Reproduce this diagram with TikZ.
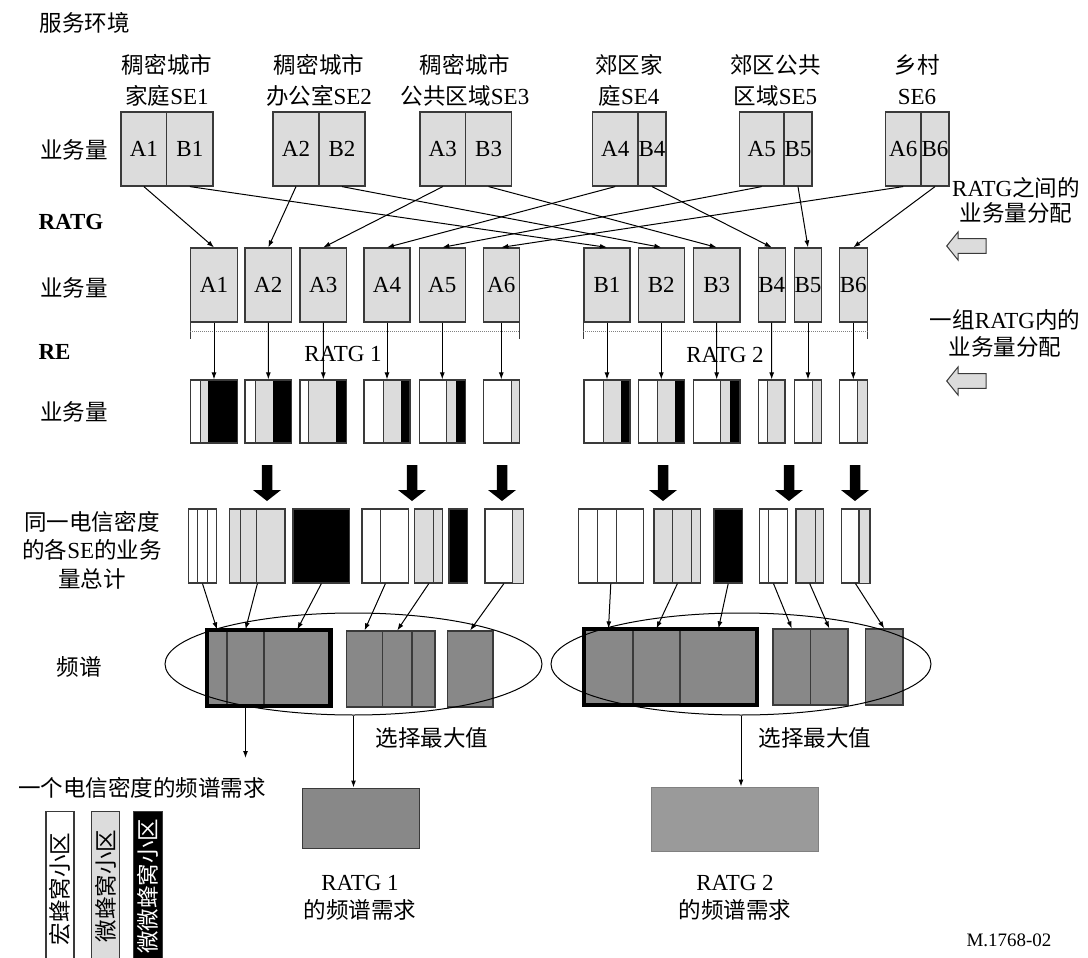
\documentclass[tikz,border=0pt]{standalone}
\usepackage{fontspec}
\setmainfont{Liberation Serif}
\newfontfamily\cjk[Scale=0.98]{Noto Sans CJK SC}
\newcommand{\zh}[1]{{\cjk #1}}
\usetikzlibrary{positioning, arrows.meta, shapes.geometric}
\definecolor{cellgray}{HTML}{DCDCDC}
\definecolor{specgray}{HTML}{888888}
\definecolor{needgray}{HTML}{9A9A9A}
\definecolor{rim}{HTML}{3A3A3A}

\begin{document}
\begin{tikzpicture}[x=1pt, y=-1pt,
    every node/.style={font=\fontsize{23}{27}\selectfont},
    cell/.style={draw=rim, line width=1.2pt, fill=cellgray, inner sep=0pt, minimum height=74pt},
    rebox/.style={draw=rim, line width=1.2pt, inner sep=0pt},
    band/.style={draw=rim, line width=1.2pt, fill=specgray, inner sep=0pt, minimum height=76pt},
    heavy/.style={draw=black, line width=4.5pt, inner sep=0pt, minimum height=76pt},
    pool/.style={draw, ellipse, line width=1pt, inner sep=0pt, minimum height=102pt},
    flow/.style={-{Latex[length=7pt, width=5pt]}, line width=1pt},
    caption/.style={align=center, font=\fontsize{23}{31}\selectfont},
    lane/.style={draw=rim, line width=1.2pt, minimum width=28pt, minimum height=160pt, inner sep=0pt, anchor=north}
  ]
  \useasboundingbox[fill=white] (0,0) rectangle (1088,958);

  \node[anchor=west] (title) at (36,23) {\zh{服务环境}};

  \node[caption] (se1) at (167,80)   {\zh{稠密城市}\\\zh{家庭}SE1};
  \node[caption] (se2) at (319,80)   {\zh{稠密城市}\\\zh{办公室}SE2};
  \node[caption] (se3) at (465,80)   {\zh{稠密城市}\\\zh{公共区域}SE3};
  \node[caption] (se4) at (629,80)   {\zh{郊区家}\\\zh{庭}SE4};
  \node[caption] (se5) at (775.5,80) {\zh{郊区公共}\\\zh{区域}SE5};
  \node[caption] (se6) at (917,80)   {\zh{乡村}\\SE6};

  \foreach \n/\ax/\aw/\bx/\bw in {1/143.9/45.7/189.9/46.3, 2/296/46/342/46, 3/442.8/45.6/488.6/46,
      4/615.2/45.6/652/28, 5/761.7/44.7/798/28, 6/903.2/35.6/935/28} {
    \node[cell, minimum width=\aw pt] (sa\n) at (\ax,149) {A\n};
    \node[cell, minimum width=\bw pt] (sb\n) at (\bx,149) {B\n};
  }

  \node (load1) at (74,150) {\zh{业务量}};
  \node[anchor=west, font=\fontsize{23}{27}\selectfont\bfseries] (ratglbl) at (35,222) {RATG};
  \node (load2) at (74,288) {\zh{业务量}};
  \node[anchor=west, font=\fontsize{23}{27}\selectfont\bfseries] (relbl) at (35,352) {RE};
  \node (load3) at (74,412) {\zh{业务量}};
  \node[caption, font=\fontsize{23}{28.5}\selectfont] (sumlbl) at (92,550) {\zh{同一电信密度}\\\zh{的各}SE\zh{的业务}\\\zh{量总计}};
  \node (speclbl) at (79,667) {\zh{频谱}};

  \foreach \n/\cx/\w in {1/214/46.6, 2/268.3/46.7, 3/323.3/46.7, 4/387/46, 5/442.3/46, 6/501.3/36}
    \node[cell, minimum width=\w pt] (ra\n) at (\cx,285) {A\n};
  \foreach \n/\cx/\w in {1/607/46, 2/661.3/46, 3/716.7/46.7, 4/771.7/26.7, 5/808/27.4, 6/853.3/28}
    \node[cell, minimum width=\w pt] (rb\n) at (\cx,285) {B\n};

  \foreach \s in {1,...,6} {
    \draw[flow] (sa\s.south) -- (ra\s.north);
    \draw[flow] (sb\s.south) -- (rb\s.north);
  }

  \draw[rim, line width=1pt] (ra1.south west) -- ++(0,16) (ra6.south east) -- ++(0,16);
  \draw[gray, densely dotted, line width=1pt] ([yshift=-9pt]ra1.south west) -- ([yshift=-9pt]ra6.south east);
  \draw[rim, line width=1pt] (rb1.south west) -- ++(0,16) (rb6.south east) -- ++(0,16);
  \draw[gray, densely dotted, line width=1pt] ([yshift=-9pt]rb1.south west) -- ([yshift=-9pt]rb6.south east);
  \node (grp1) at (343,354) {RATG 1};
  \node (grp2) at (725,355) {RATG 2};

  \foreach \n/\a/\b/\c/\d in {1/190.7/200/208.3/237.3, 2/245/255/272.7/291.7, 3/300/308.3/336/346.7,
      4/364/383.3/400.7/410, 5/419.3/446.7/456/465.3, 6/483.3/511.7/519.3/519.3} {
    \fill[cellgray] (\b,380) rectangle (\c,443);
    \fill (\c,380) rectangle (\d,443);
    \draw[rim, line width=1pt] (\b,380) -- (\b,443);
    \node[rebox, minimum width={(\d-\a)*1pt}, minimum height=63pt] (rea\n) at ({(\a+\d)/2},411.5) {};
  }
  \foreach \n/\a/\b/\c/\d in {1/584/603.3/620.7/630, 2/638.3/657.3/675/684.3, 3/693.3/720.7/730/740,
      4/758.3/767.3/785/785, 5/794.3/812.3/821.7/821.7, 6/839.3/857.7/867.3/867.3} {
    \fill[cellgray] (\b,380) rectangle (\c,443);
    \fill (\c,380) rectangle (\d,443);
    \draw[rim, line width=1pt] (\b,380) -- (\b,443);
    \node[rebox, minimum width={(\d-\a)*1pt}, minimum height=63pt] (reb\n) at ({(\a+\d)/2},411.5) {};
  }
  \foreach \n in {1,...,6} {
    \draw[flow] (ra\n) -- (rea\n);
    \draw[flow] (rb\n) -- (reb\n);
  }

  \foreach \x in {267,412,502,663,789,855}
    \fill (\x-5.25,465) -- (\x+5.25,465) -- (\x+5.25,490) -- (\x+14,490) -- (\x,501)
      -- (\x-14,490) -- (\x-5.25,490) -- cycle;

  \node[rebox, fill=white, minimum width=28.1pt, minimum height=74pt]    (g1) at (202.5,546) {};
  \node[rebox, fill=cellgray, minimum width=55.2pt, minimum height=74pt] (g2) at (257.4,546) {};
  \node[rebox, fill=black, minimum width=56.8pt, minimum height=74pt]    (g3) at (321.4,546) {};
  \node[rebox, fill=white, minimum width=46.8pt, minimum height=74pt]    (g4) at (385.4,546) {};
  \node[rebox, fill=cellgray, minimum width=28.1pt, minimum height=74pt] (g5) at (428.8,546) {};
  \node[rebox, fill=black, minimum width=18.4pt, minimum height=74pt]    (g6) at (458.2,546) {};
  \node[rebox, fill=white, minimum width=37.8pt, minimum height=74pt]    (g7) at (503.9,546) {};
  \draw[rim, line width=1.2pt, fill=cellgray] (512.3,509) rectangle (g7.south east);
  \node[rebox, fill=white, minimum width=65pt, minimum height=74pt]      (h1) at (610.8,546) {};
  \node[rebox, fill=cellgray, minimum width=46.7pt, minimum height=74pt] (h2) at (677.4,546) {};
  \node[rebox, fill=black, minimum width=28.3pt, minimum height=74pt]    (h3) at (728.2,546) {};
  \node[rebox, fill=white, minimum width=28.4pt, minimum height=74pt]    (h4) at (773.5,546) {};
  \node[rebox, fill=cellgray, minimum width=27.3pt, minimum height=74pt] (h5) at (809.7,546) {};
  \node[rebox, fill=white, minimum width=27.6pt, minimum height=74pt]    (h6) at (855.5,546) {};
  \draw[rim, line width=1.2pt, fill=cellgray] (859,509) rectangle (h6.south east);
  \foreach \x in {197.5,207,240.4,256.8,380.7,433.3,597.3,616,672.7,691,768.3,815}
    \draw[rim, line width=1pt] (\x,509) -- (\x,583);

  \node[band, minimum width=20pt]   (s1a) at (217,668) {};
  \node[band, minimum width=37pt]   (s1b) at (245.5,668) {};
  \node[band, minimum width=66.5pt] (s1c) at (297.3,668) {};
  \node[heavy, minimum width=123.5pt] (s1) at (268.8,668) {};
  \node[band, minimum width=35.8pt] (s2a) at (364.6,669) {};
  \node[band, minimum width=29.5pt] (s2b) at (397.3,669) {};
  \node[band, minimum width=23pt]   (s2c) at (423.5,669) {};
  \node[band, minimum width=45.6pt] (s3)  at (470.2,669) {};
  \node[band, minimum width=49pt]   (s4a) at (608.5,667) {};
  \node[band, minimum width=47pt]   (s4b) at (656.5,667) {};
  \node[band, minimum width=77pt]   (s4c) at (718.5,667) {};
  \node[heavy, minimum width=173pt] (s4) at (670.5,667) {};
  \node[band, minimum width=37.5pt] (s5a) at (791.8,667) {};
  \node[band, minimum width=37.5pt] (s5b) at (829.3,667) {};
  \node[band, minimum width=37.6pt] (s6)  at (884.2,667) {};

  \node[pool, minimum width=377pt] (e1) at (353.5,664) {};
  \node[pool, minimum width=380pt] (e2) at (741,664) {};

  \foreach \g/\s in {g1/s1a, g2/s1b, g3/s1c, g4/s2a, g5/s2b, g7/s3,
      h1/s4a, h2/s4b, h3/s4c, h4/s5a, h5/s5b, h6/s6}
    \draw[flow] (\g.south) -- (\s.north);

  \node[fill=specgray, draw=rim, line width=1pt, minimum width=117pt, minimum height=60pt] (max1) at (360.5,818) {};
  \node[fill=needgray, draw=gray, line width=1pt, minimum width=167.5pt, minimum height=64pt] (max2) at (734.8,819) {};
  \coordinate (need1) at (245.5,758);
  \draw[flow] (s1b.south) -- (need1);
  \draw[flow] (e1.south) -- (e1.south |- max1.north);
  \draw[flow] (e2.south) -- (e2.south |- max2.north);
  \node (pick1) at (432,738) {\zh{选择最大值}};
  \node (pick2) at (815,738) {\zh{选择最大值}};
  \node[caption, font=\fontsize{23}{28}\selectfont] (cap1) at (360,898) {RATG 1\\\zh{的频谱需求}};
  \node[caption, font=\fontsize{23}{28}\selectfont] (cap2) at (735,898) {RATG 2\\\zh{的频谱需求}};

  \node (needlbl) at (142,788) {\zh{一个电信密度的频谱需求}};
  \node[lane, fill=white]    (macro) at (59.9,811) {};
  \node[lane, fill=cellgray] (micro) at (105.4,811) {};
  \node[lane, fill=black, minimum width=29pt] (pico) at (147.8,811) {};
  \node[rotate=90, anchor=east] (macrotxt) at (59.9,829) {\zh{宏蜂窝小区}};
  \node[rotate=90, anchor=east] (microtxt) at (105.4,826) {\zh{微蜂窝小区}};
  \node[rotate=90, anchor=east, text=white] (picotxt) at (147.8,815) {\zh{微微蜂窝小区}};

  \node[caption, font=\fontsize{23}{25}\selectfont] (interlbl) at (1016,200) {RATG\zh{之间的}\\\zh{业务量分配}};
  \node[caption, font=\fontsize{23}{27}\selectfont] (intralbl) at (1005,333) {\zh{一组}RATG\zh{内的}\\\zh{业务量分配}};
  \foreach \y in {246,381}
    \draw[rim, fill=cellgray, line width=1pt] (986,\y-7.3) -- (958,\y-7.3) -- (958,\y-14) -- (946.7,\y)
      -- (958,\y+14) -- (958,\y+7.3) -- (986,\y+7.3) -- cycle;

  \node[font=\fontsize{19}{21}\selectfont] (fig) at (1009,940) {M.1768-02};
\end{tikzpicture}
\end{document}
